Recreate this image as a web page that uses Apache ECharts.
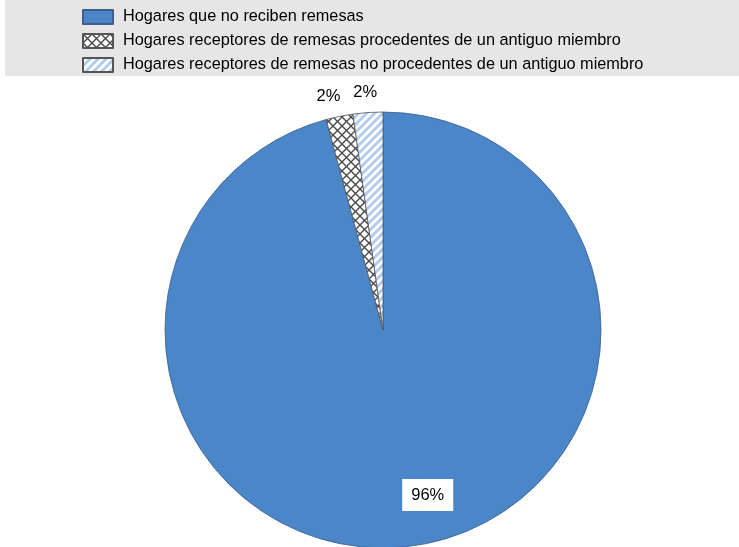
<!DOCTYPE html>
<html>
<head>
<meta charset="utf-8">
<script src="https://cdn.jsdelivr.net/npm/echarts@6/dist/echarts.min.js"></script>
<style>
html,body{margin:0;padding:0;background:#fff;}
#chart{width:739px;height:547px;}
</style>
</head>
<body>
<div id="chart"></div>
<script>
const categories = [
  'Hogares que no reciben remesas',
  'Hogares receptores de remesas procedentes de un antiguo miembro',
  'Hogares receptores de remesas no procedentes de un antiguo miembro'
];
const values = [95.8, 2.0, 2.2];

function crossPattern() {
  const c = document.createElement('canvas');
  c.width = 9; c.height = 9;
  const g = c.getContext('2d');
  g.fillStyle = '#ffffff'; g.fillRect(0, 0, 9, 9);
  g.strokeStyle = '#4a4a4a'; g.lineWidth = 1.4;
  g.beginPath();
  g.moveTo(-1, -1); g.lineTo(10, 10);
  g.moveTo(10, -1); g.lineTo(-1, 10);
  g.stroke();
  return c;
}
function stripePattern() {
  const c = document.createElement('canvas');
  c.width = 8; c.height = 8;
  const g = c.getContext('2d');
  g.fillStyle = '#ffffff'; g.fillRect(0, 0, 8, 8);
  g.strokeStyle = '#b3cbec'; g.lineWidth = 3;
  g.beginPath();
  g.moveTo(-2, 10); g.lineTo(10, -2);
  g.moveTo(-6, 6); g.lineTo(6, -6);
  g.moveTo(2, 14); g.lineTo(14, 2);
  g.stroke();
  return c;
}

const fills = [
  '#4a86c8',
  { image: crossPattern(), repeat: 'repeat' },
  { image: stripePattern(), repeat: 'repeat' }
];
const borders = ['#3d5f8a', '#555555', '#555555'];
const labelOffsets = [[30, 54], [-6, 5], [-1, 5]];

const FONT = '"Liberation Sans", Arial, sans-serif';
const pct = p => Math.round(p.percent) + '%';

const chart = echarts.init(document.getElementById('chart'), null, { renderer: 'canvas' });
chart.setOption({
  animation: false,
  backgroundColor: '#ffffff',
  graphic: [{
    type: 'rect', z: -10, silent: true,
    shape: { x: 5, y: 0, width: 734, height: 76 },
    style: { fill: '#e6e6e6' }
  }],
  legend: {
    orient: 'vertical',
    left: 77,
    top: 4,
    icon: 'rect',
    itemWidth: 30,
    itemHeight: 14,
    itemGap: 8,
    data: categories,
    textStyle: { fontFamily: FONT, fontSize: 16.3, color: '#000', padding: [0, 0, 0, 5] },
    selectedMode: false
  },
  series: [
    {
      type: 'pie',
      center: [383, 330],
      radius: [0, 218],
      startAngle: 90,
      clockwise: true,
      avoidLabelOverlap: false,
      labelLine: { show: false },
      data: categories.map((n, i) => ({
        name: n,
        value: values[i],
        itemStyle: { color: fills[i], borderColor: borders[i], borderWidth: 0.8 },
        label: i === 0 ? {
          show: true, position: 'inside', formatter: pct,
          fontFamily: FONT, fontSize: 16.5, color: '#000',
          backgroundColor: '#ffffff', padding: [8, 9, 7, 9],
          offset: labelOffsets[i]
        } : { show: false }
      }))
    },
    {
      type: 'pie',
      silent: true,
      center: [383, 330],
      radius: [0, 480],
      startAngle: 90,
      clockwise: true,
      avoidLabelOverlap: false,
      labelLine: { show: false },
      itemStyle: { color: 'rgba(0,0,0,0)', borderWidth: 0 },
      z: 5,
      data: categories.map((n, i) => ({
        name: n,
        value: values[i],
        label: i === 0 ? { show: false } : {
          show: true, position: 'inside', formatter: pct,
          fontFamily: FONT, fontSize: 16.5, color: '#000',
          offset: labelOffsets[i]
        }
      }))
    }
  ]
});
</script>
</body>
</html>
